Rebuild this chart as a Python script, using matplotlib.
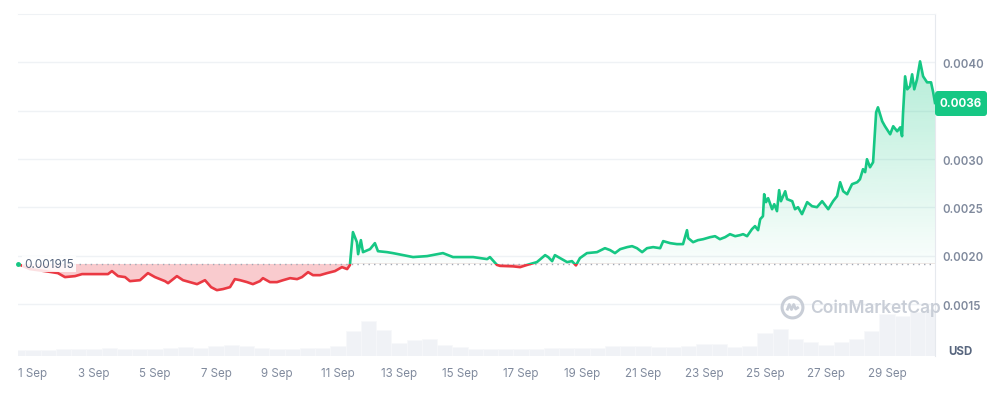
import numpy as np
import matplotlib.pyplot as plt
from matplotlib.patches import Polygon, Rectangle, FancyBboxPatch
from matplotlib.path import Path
from matplotlib.transforms import IdentityTransform

plt.rcParams['font.family'] = ['Inter', 'DejaVu Sans']

cgreen = '#16c784'
cred = '#ea3943'
cgrid = '#eff2f5'
ctick = '#808a9d'
cdark = '#58667e'

open_price = 0.001915
last_price = 0.0036

# days since 1 Sep 00:00
days = [-0.49, -0.10, 0.39, 0.82, 1.05, 1.38, 1.61, 2.03, 2.46, 2.59,
        2.79, 3.02, 3.18, 3.51, 3.77, 4.00, 4.33, 4.43, 4.72, 4.92,
        5.15, 5.38, 5.64, 5.84, 6.03, 6.23, 6.46, 6.62, 6.79, 7.02,
        7.21, 7.44, 7.54, 7.77, 8.00, 8.20, 8.43, 8.66, 8.82, 9.02,
        9.18, 9.41, 9.64, 9.90, 10.13, 10.30, 10.39, 10.49, 10.62, 10.66,
        10.75, 10.82, 11.05, 11.21, 11.31, 11.61, 11.80, 12.13, 12.46, 12.92,
        13.44, 13.77, 14.43, 14.89, 14.98, 15.21, 15.31, 15.74, 15.97, 16.20,
        16.52, 16.79, 16.89, 17.02, 17.11, 17.28, 17.51, 17.67, 17.80, 17.93,
        18.16, 18.49, 18.75, 18.92, 19.08, 19.25, 19.48, 19.64, 19.80, 19.97,
        20.13, 20.33, 20.56, 20.66, 20.89, 21.11, 21.31, 21.44, 21.48, 21.64,
        21.80, 21.97, 22.20, 22.36, 22.52, 22.69, 22.85, 23.02, 23.18, 23.28,
        23.41, 23.57, 23.67, 23.77, 23.84, 23.93, 23.97, 24.03, 24.10, 24.23,
        24.30, 24.39, 24.46, 24.52, 24.66, 24.72, 24.89, 24.98, 25.08, 25.21,
        25.38, 25.54, 25.70, 25.87, 26.07, 26.23, 26.36, 26.46, 26.56, 26.69,
        26.85, 27.02, 27.11, 27.21, 27.28, 27.34, 27.44, 27.54, 27.64, 27.70,
        27.84, 27.93, 28.10, 28.20, 28.33, 28.43, 28.49, 28.52, 28.59, 28.66,
        28.75, 28.82, 28.89, 28.98, 29.08, 29.18, 29.31, 29.44, 29.51, 29.57]

price = [0.001915, 0.001862, 0.001841, 0.001820, 0.001779, 0.001789, 0.001810, 0.001810, 0.001810, 0.001841,
         0.001789, 0.001779, 0.001737, 0.001747, 0.001820, 0.001779, 0.001737, 0.001716, 0.001789, 0.001747,
         0.001727, 0.001706, 0.001747, 0.001675, 0.001644, 0.001655, 0.001675, 0.001758, 0.001747, 0.001727,
         0.001706, 0.001737, 0.001768, 0.001727, 0.001727, 0.001747, 0.001768, 0.001758, 0.001779, 0.001830,
         0.001799, 0.001799, 0.001820, 0.001841, 0.001882, 0.001862, 0.001903, 0.002244, 0.002140, 0.002016,
         0.002161, 0.002037, 0.002068, 0.002130, 0.002047, 0.002037, 0.002027, 0.002006, 0.001986, 0.001996,
         0.002027, 0.001986, 0.001986, 0.001965, 0.001986, 0.001905, 0.001895, 0.001890, 0.001882, 0.001905,
         0.001934, 0.002006, 0.001986, 0.001944, 0.002006, 0.001975, 0.001934, 0.001944, 0.001900, 0.001975,
         0.002027, 0.002037, 0.002078, 0.002058, 0.002027, 0.002068, 0.002089, 0.002099, 0.002078, 0.002037,
         0.002078, 0.002089, 0.002078, 0.002151, 0.002130, 0.002120, 0.002120, 0.002264, 0.002182, 0.002140,
         0.002161, 0.002171, 0.002192, 0.002202, 0.002171, 0.002192, 0.002223, 0.002202, 0.002213, 0.002223,
         0.002202, 0.002275, 0.002306, 0.002264, 0.002378, 0.002409, 0.002636, 0.002554, 0.002595, 0.002481,
         0.002533, 0.002461, 0.002678, 0.002564, 0.002667, 0.002585, 0.002564, 0.002481, 0.002502, 0.002430,
         0.002554, 0.002512, 0.002502, 0.002564, 0.002481, 0.002564, 0.002616, 0.002760, 0.002667, 0.002636,
         0.002740, 0.002760, 0.002791, 0.002895, 0.002864, 0.002998, 0.002915, 0.002967, 0.003483, 0.003535,
         0.003390, 0.003339, 0.003256, 0.003339, 0.003287, 0.003328, 0.003236, 0.003463, 0.003855, 0.003721,
         0.003752, 0.003876, 0.003721, 0.003824, 0.004010, 0.003855, 0.003793, 0.003793, 0.003690, 0.003580]

# volume, half-day buckets (arbitrary units)
vol_days = [d * 0.5 for d in range(-1, 60)]
volume = [6, 6, 6, 7, 7, 7, 8, 7, 7, 7,
          8, 9, 8, 10, 11, 10, 8, 7, 7, 8,
          8, 10, 25, 35, 26, 13, 16, 17, 11, 9,
          7, 7, 7, 7, 7, 8, 8, 8, 8, 10,
          10, 10, 9, 9, 10, 12, 12, 9, 10, 23,
          27, 17, 14, 11, 14, 17, 25, 42, 40, 44, 47]

tick_days = list(range(0, 30, 2))
tick_labels = ['%d Sep' % (d + 1) for d in tick_days]
price_ticks = [0.0015, 0.0020, 0.0025, 0.0030, 0.0035, 0.0040]
# 0.0035 label sits under the current price tag
price_labels = ['0.0015', '0.0020', '0.0025', '0.0030', '', '0.0040']

xmin, xmax = -0.49, 29.57
ymin, ymax = 0.000963, 0.0045

fig = plt.figure(figsize=(9.93, 4.06), dpi=100)
ax_v = fig.add_axes([0.0181, 0.1207, 0.9235, 0.8424])
ax = fig.add_axes([0.0181, 0.1207, 0.9235, 0.8424], sharex=ax_v)
ax.patch.set_visible(False)

# volume
ax_v.bar(vol_days, volume, width=0.5, color='#f0f2f6', edgecolor='#f7f8fa', linewidth=0.5)
ax_v.set_ylim(0, 342)
ax_v.set_yticks([])
for s in ax_v.spines.values():
    s.set_visible(False)

x = np.array(days)
y = np.array(price)

# gradient fill between price and open line
ys = np.linspace(ymin, ymax, 500)
rgba = np.zeros((len(ys), 1, 4))
up = ys >= open_price
rgba[up, 0, :3] = np.array([22, 199, 132]) / 255
rgba[up, 0, 3] = np.clip(0.02 + 0.30 * (ys[up] - open_price) / (0.0040 - open_price), 0, 0.34)
rgba[~up, 0, :3] = np.array([234, 57, 67]) / 255
rgba[~up, 0, 3] = 0.26
im = ax.imshow(rgba, extent=[xmin, xmax, ymin, ymax], origin='lower', aspect='auto', zorder=1)
poly = Polygon(list(zip(x, y)) + [(x[-1], open_price), (x[0], open_price)],
               closed=True, fc='none', ec='none', transform=ax.transData)
ax.add_patch(poly)
im.set_clip_path(poly)

# line coloured by side of open price
gl, = ax.plot(x, y, color=cgreen, lw=1.9, zorder=3, solid_joinstyle='round')
rl, = ax.plot(x, y, color=cred, lw=1.9, zorder=3, solid_joinstyle='round')
gl.set_clip_path(Rectangle((xmin, open_price), xmax - xmin, 1, transform=ax.transData))
rl.set_clip_path(Rectangle((xmin, 0), xmax - xmin, open_price, transform=ax.transData))

ax.axhline(open_price, color='#a1a7b3', lw=1, ls=(0, (1, 3)), zorder=2)
ax.plot(x[0], y[0], 'o', ms=2.5, color=cgreen, zorder=4, clip_on=False)

ax.set_xlim(xmin, xmax)
ax.set_ylim(ymin, ymax)

ax.yaxis.tick_right()
ax.set_yticks(price_ticks)
ax.set_yticklabels(price_labels)
ax.grid(axis='y', color=cgrid, lw=1, zorder=0)
ax.set_axisbelow(True)
ax.tick_params(axis='y', length=0, pad=5, labelsize=8.3, labelcolor=ctick)
for lab in ax.get_yticklabels():
    lab.set_fontweight('semibold')

ax_v.set_xticks(tick_days)
ax_v.set_xticklabels(tick_labels)
ax_v.tick_params(axis='x', length=0, pad=8, labelsize=8.3, labelcolor=ctick)
ax.tick_params(axis='x', length=0, labelbottom=False)

for s in ['left', 'bottom']:
    ax.spines[s].set_visible(False)
ax.spines['top'].set_color(cgrid)
ax.spines['right'].set_color('#e6e9ee')

# open price label
ax.text(0.0065, open_price, '0.001915', transform=ax.get_yaxis_transform(),
        ha='left', va='center', fontsize=8.5, color=cdark, zorder=5,
        bbox=dict(fc='white', ec='none', alpha=0.85, pad=1.5))

# current price tag
tag = FancyBboxPatch((935, 406 - 117), 52, 25, boxstyle='round,pad=0,rounding_size=3',
                     fc=cgreen, ec='none', transform=IdentityTransform())
fig.add_artist(tag)
fig.text(961 / 993, 1 - 104.5 / 406, '%.4f' % last_price, ha='center', va='center',
         color='white', fontsize=8.3, fontweight='bold')

fig.text(960 / 993, 1 - 352 / 406, 'USD', ha='center', va='center',
         color=cdark, fontsize=8.3, fontweight='bold')

# watermark
wm = '#c9ced7'
fig.text(810 / 993, 1 - 308 / 406, 'CoinMarketCap', ha='left', va='center',
         color=wm, fontsize=12.5, fontweight='semibold', zorder=6)
ax.plot([792 / 993], [1 - 308 / 406], marker='o', ms=15, mfc='none', mec=wm, mew=2.2,
        transform=fig.transFigure, clip_on=False, zorder=6)
wave = Path([(-0.55, -0.3), (-0.32, 0.3), (-0.1, -0.2), (0.12, 0.3), (0.32, -0.15), (0.62, 0.05)])
ax.plot([792 / 993], [1 - 308 / 406], marker=wave, ms=9, mfc='none', mec=wm, mew=2,
        transform=fig.transFigure, clip_on=False, zorder=6)

plt.savefig('out.png', dpi=100)
